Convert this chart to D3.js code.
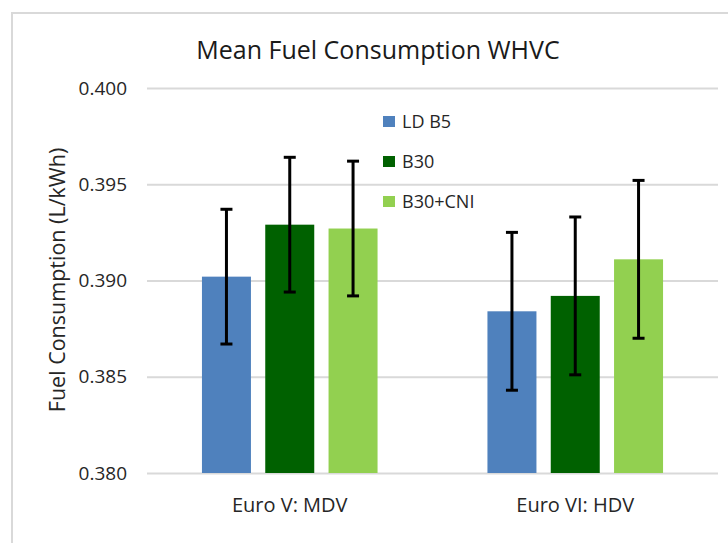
<!DOCTYPE html>
<html>
<head>
<meta charset="utf-8">
<script src="https://cdn.jsdelivr.net/npm/d3@7"></script>
<style>
  body { margin: 0; background: #fff; }
  svg { display: block; font-family: "Open Sans", sans-serif; }
</style>
</head>
<body>
<div id="chart"></div>
<script>
// data
const categories = ["Euro V: MDV", "Euro VI: HDV"];
const seriesNames = ["LD B5", "B30", "B30+CNI"];
const seriesColors = ["#4f81bd", "#006100", "#92d050"];
const ldB5 = [0.3902, 0.3884];
const b30 = [0.3929, 0.3892];
const b30Cni = [0.3927, 0.3911];
const ldB5Err = [0.0035, 0.0041];
const b30Err = [0.0035, 0.0041];
const b30CniErr = [0.0035, 0.0041];
const yTicks = [0.380, 0.385, 0.390, 0.395, 0.400];

const means = [ldB5, b30, b30Cni];
const errs = [ldB5Err, b30Err, b30CniErr];

let width = 728, height = 543;
let plot = { left: 147, right: 718, top: 88, bottom: 473 };
let textColor = "#262626";

let svg = d3.select("#chart")
  .append("svg")
    .attr("width", width)
    .attr("height", height);

// chart area frame (only top and left edges are visible)
svg.append("path")
  .attr("d", "M12," + height + "V13H" + width)
  .attr("fill", "none")
  .attr("stroke", "#d9d9d9")
  .attr("stroke-width", 2);

let x0 = d3.scaleBand()
  .domain(categories)
  .range([plot.left, plot.right])
  .padding(0);

let x1 = d3.scaleBand()
  .domain(seriesNames)
  .range([0, x0.bandwidth()])
  .paddingInner(0.226)
  .paddingOuter(0.868);

let y = d3.scaleLinear()
  .domain([0.380, 0.400])
  .range([plot.bottom, plot.top]);

// gridlines + tick labels
let yAxis = svg.append("g")
  .attr("transform", "translate(" + plot.left + ",0)")
  .call(d3.axisLeft(y)
    .tickValues(yTicks)
    .tickFormat(d3.format(".3f"))
    .tickSize(-(plot.right - plot.left))
    .tickPadding(20));

yAxis.select(".domain").remove();
yAxis.selectAll("line")
  .attr("stroke", "#d9d9d9")
  .attr("stroke-width", 2);
yAxis.selectAll("text")
  .attr("fill", textColor)
  .style("font-size", "19px")
  .style("font-family", "Open Sans");

// category labels
svg.append("g")
  .selectAll("text")
  .data(categories)
  .join("text")
    .attr("x", d => x0(d) + x0.bandwidth() / 2)
    .attr("y", 512)
    .attr("text-anchor", "middle")
    .attr("fill", textColor)
    .style("font-size", "20px")
    .text(d => d);

// bars
let rows = [];
categories.forEach((c, ci) => {
  seriesNames.forEach((s, si) => {
    rows.push({ cat: c, name: s, color: seriesColors[si], value: means[si][ci], err: errs[si][ci] });
  });
});

svg.append("g")
  .selectAll("rect")
  .data(rows)
  .join("rect")
    .attr("x", d => x0(d.cat) + x1(d.name))
    .attr("y", d => y(d.value))
    .attr("width", x1.bandwidth())
    .attr("height", d => y(0.380) - y(d.value))
    .attr("fill", d => d.color);

// error bars
let eb = svg.append("g")
  .attr("stroke", "#000")
  .attr("stroke-width", 3)
  .selectAll("g")
  .data(rows)
  .join("g")
    .attr("transform", d => "translate(" + (x0(d.cat) + x1(d.name) + x1.bandwidth() / 2) + ",0)");

eb.append("line")
  .attr("y1", d => y(d.value + d.err))
  .attr("y2", d => y(d.value - d.err));
eb.append("line")
  .attr("x1", -6).attr("x2", 6)
  .attr("y1", d => y(d.value + d.err))
  .attr("y2", d => y(d.value + d.err));
eb.append("line")
  .attr("x1", -6).attr("x2", 6)
  .attr("y1", d => y(d.value - d.err))
  .attr("y2", d => y(d.value - d.err));

// title
svg.append("text")
  .attr("x", 378)
  .attr("y", 59)
  .attr("text-anchor", "middle")
  .attr("fill", "#1a1a1a")
  .style("font-size", "25px")
  .text("Mean Fuel Consumption WHVC");

// y axis title
svg.append("text")
  .attr("transform", "translate(65,280) rotate(-90)")
  .attr("text-anchor", "middle")
  .attr("fill", textColor)
  .style("font-size", "21.5px")
  .text("Fuel Consumption (L/kWh)");

// legend
let legend = svg.append("g")
  .attr("transform", "translate(383,128)")
  .selectAll("g")
  .data(seriesNames)
  .join("g")
    .attr("transform", (d, i) => "translate(0," + i * 40 + ")");

legend.append("rect")
  .attr("y", -12)
  .attr("width", 12)
  .attr("height", 11)
  .attr("fill", (d, i) => seriesColors[i]);

legend.append("text")
  .attr("x", 19)
  .attr("fill", textColor)
  .style("font-size", "18px")
  .text(d => d);
</script>
</body>
</html>
